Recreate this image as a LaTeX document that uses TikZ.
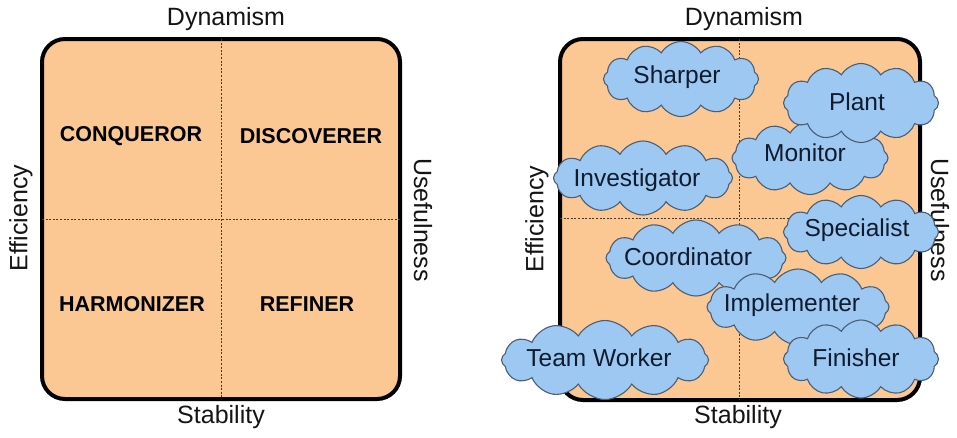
\documentclass[tikz,border=0pt]{standalone}
\usepackage{fontspec}
\setmainfont{Liberation Sans}
\usetikzlibrary{shapes.symbols}
\definecolor{peach}{HTML}{FBC894}
\definecolor{cloudblue}{HTML}{9DC8F2}
\definecolor{cloudline}{HTML}{4A5E76}
\definecolor{dashcol}{HTML}{4A3826}
\definecolor{inktext}{HTML}{141414}
\definecolor{cloudtext}{HTML}{101C2E}
\tikzset{
  panel/.style={draw=black, line width=4pt, fill=peach, rounded corners=23pt},
  midline/.style={draw=dashcol, line width=0.9pt, dash pattern=on 2pt off 1.6pt},
  axislabel/.style={text=inktext, font=\fontsize{25}{30}\selectfont, inner sep=0pt},
  quadlabel/.style={text=black, font=\bfseries\fontsize{21.5}{26}\selectfont, inner sep=0pt},
  rolecloud/.style={cloud, cloud puffs=12, cloud puff arc=120, cloud ignores aspect,
    draw=cloudline, line width=1.1pt, fill=cloudblue, inner sep=0pt},
  cloudlabel/.style={text=cloudtext, font=\fontsize{24.5}{29}\selectfont, inner sep=0pt},
}
\begin{document}
\begin{tikzpicture}[x=1pt, y=-1pt]
\useasboundingbox (0,0) rectangle (957,437);
% ---------- left panel ----------
\node[panel, minimum width=358pt, minimum height=360pt, inner sep=0pt] (lsq) at (221,219) {};
\coordinate (ltop) at (221,39);
\coordinate (lbot) at (221,399);
\coordinate (lleft) at (42,219);
\coordinate (lright) at (400,219);
\draw[midline] (ltop) -- (lbot);
\draw[midline] (lleft) -- (lright);
\node[axislabel] (ldyn) at (226,19) {Dynamism};
\node[axislabel] (lsta) at (221,417) {Stability};
\node[axislabel, rotate=90] (leff) at (21,218) {Efficiency};
\node[axislabel, rotate=-90] (luse) at (423,220) {Usefulness};
\node[quadlabel] (conq) at (131,136) {CONQUEROR};
\node[quadlabel] (disc) at (311,136) {DISCOVERER};
\node[quadlabel] (harm) at (132,304) {HARMONIZER};
\node[quadlabel] (refi) at (307,304) {REFINER};
% ---------- right panel ----------
\node[panel, minimum width=360pt, minimum height=361pt, inner sep=0pt] (rsq) at (740,219.5) {};
\coordinate (rtop) at (739,39);
\coordinate (rbot) at (739,400);
\coordinate (rleft) at (560,218);
\coordinate (rright) at (920,218);
\draw[midline] (rtop) -- (rbot);
\draw[midline] (rleft) -- (rright);
\node[axislabel] (rdyn) at (744,19) {Dynamism};
\node[axislabel] (rsta) at (738,417) {Stability};
\node[axislabel, rotate=90] (reff) at (537,219) {Efficiency};
\node[axislabel, rotate=-90] (ruse) at (940,220) {Usefulness};
% clouds
\node[rolecloud, minimum width=155pt, minimum height=75pt] (sharper) at (681,79) {};
\node[cloudlabel] (sharpert) at (677,77) {Sharper};
\node[rolecloud, minimum width=156pt, minimum height=73pt] (monitor) at (810,158) {};
\node[cloudlabel] (monitort) at (805,153) {Monitor};
\node[rolecloud, minimum width=155pt, minimum height=79pt] (plant) at (861,103) {};
\node[cloudlabel] (plantt) at (857,102) {Plant};
\node[rolecloud, minimum width=179pt, minimum height=74pt] (invest) at (643,178) {};
\node[cloudlabel] (investt) at (637,180) {Investigator};
\node[rolecloud, minimum width=155pt, minimum height=73pt] (special) at (861,232) {};
\node[cloudlabel] (specialt) at (857,230) {Specialist};
\node[rolecloud, minimum width=180pt, minimum height=76pt] (coord) at (696,258) {};
\node[cloudlabel] (coordt) at (688,257) {Coordinator};
\node[rolecloud, minimum width=182pt, minimum height=76pt] (implem) at (798,307) {};
\node[cloudlabel] (implemt) at (792,305) {Implementer};
\node[rolecloud, minimum width=207pt, minimum height=79pt] (teamw) at (605,360) {};
\node[cloudlabel] (teamwt) at (599,358) {Team Worker};
\node[rolecloud, minimum width=155pt, minimum height=78pt] (finish) at (861,359) {};
\node[cloudlabel] (finisht) at (856,358) {Finisher};
\end{tikzpicture}
\end{document}
